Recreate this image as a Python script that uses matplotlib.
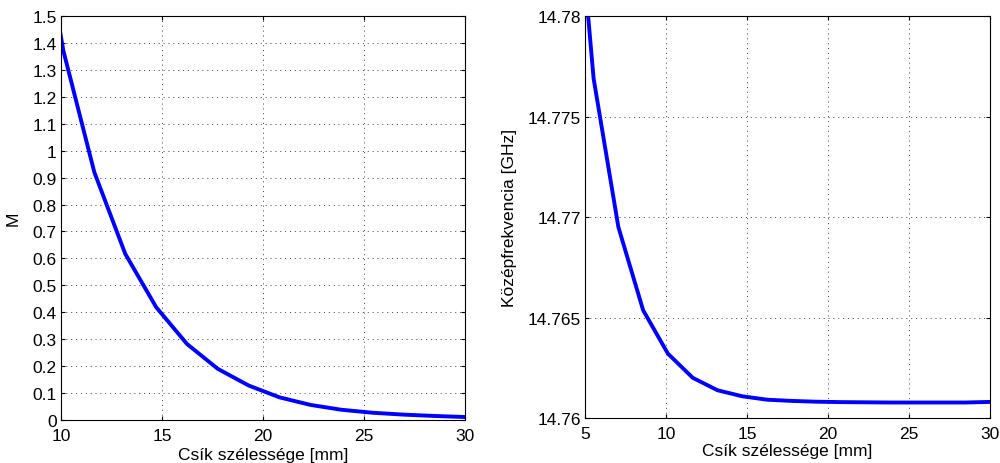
"""Strip width sweep: M factor and centre frequency vs. strip width."""

import matplotlib

matplotlib.use("Agg")
import matplotlib.pyplot as plt
from matplotlib.ticker import FormatStrFormatter, FuncFormatter

# strip width samples [mm] (first points fall outside the shown x range)
width_mm = [4.0, 5.53, 7.06, 8.59, 10.12, 11.65, 13.18, 14.71, 16.24, 17.76,
            19.29, 20.82, 22.35, 23.88, 25.41, 26.94, 28.47, 30.0]

# left panel: M
m_width = width_mm[3:]
m_values = [2.03, 1.37, 0.92, 0.617, 0.419, 0.282, 0.19, 0.128, 0.084,
            0.056, 0.038, 0.027, 0.020, 0.015, 0.011]

# right panel: centre frequency [GHz]
f_center = [14.7910, 14.7769, 14.7695, 14.76536, 14.7632, 14.7620, 14.76138,
            14.76108, 14.76091, 14.76085, 14.76081, 14.76079, 14.76078,
            14.76077, 14.76077, 14.76077, 14.76077, 14.76080]

m_yticks = [0, 0.1, 0.2, 0.3, 0.4, 0.5, 0.6, 0.7, 0.8, 0.9, 1.0, 1.1, 1.2,
            1.3, 1.4, 1.5]
f_yticks = [14.76, 14.765, 14.77, 14.775, 14.78]

plt.rcParams.update(
    {
        "font.family": ["Liberation Sans", "DejaVu Sans"],
        "font.size": 12.5,
        "xtick.direction": "in",
        "ytick.direction": "in",
        "xtick.top": True,
        "ytick.right": True,
        "xtick.major.size": 3,
        "ytick.major.size": 3,
        "xtick.major.pad": 6,
        "ytick.major.pad": 3,
        "axes.linewidth": 0.8,
    }
)


def g_fmt(v, _pos):
    return "%g" % round(v, 6)


fig = plt.figure(figsize=(10, 4.64), dpi=100)
ax1 = fig.add_axes([0.061, 0.0927, 0.404, 0.8706])
ax2 = fig.add_axes([0.585, 0.0970, 0.405, 0.8663])

ax1.plot(m_width, m_values, color="#0000ff", linewidth=2.8)
ax1.set_xlim(10, 30)
ax1.set_ylim(0, 1.5)
ax1.set_xticks([10, 15, 20, 25, 30])
ax1.set_yticks(m_yticks)
ax1.yaxis.set_major_formatter(FuncFormatter(g_fmt))
ax1.set_xlabel("Csík szélessége [mm]")
ax1.set_ylabel("M")
ax1.xaxis.set_label_coords(0.5, -0.066)
ax1.yaxis.set_label_coords(-0.100, 0.5)

ax2.plot(width_mm, f_center, color="#0000ff", linewidth=2.8)
ax2.set_xlim(5, 30)
ax2.set_ylim(14.76, 14.78)
ax2.set_xticks([5, 10, 15, 20, 25, 30])
ax2.set_yticks(f_yticks)
ax2.yaxis.set_major_formatter(FuncFormatter(g_fmt))
ax2.set_xlabel("Csík szélessége [mm]")
ax2.set_ylabel("Középfrekvencia [GHz]")
ax2.xaxis.set_label_coords(0.5, -0.062)
ax2.yaxis.set_label_coords(-0.168, 0.5)

for ax in (ax1, ax2):
    ax.grid(True, linestyle=(0, (1, 4)), color="#404040", linewidth=0.7)
    ax.set_axisbelow(True)
    ax.xaxis.set_major_formatter(FormatStrFormatter("%g"))

fig.savefig("out.png", dpi=100)
